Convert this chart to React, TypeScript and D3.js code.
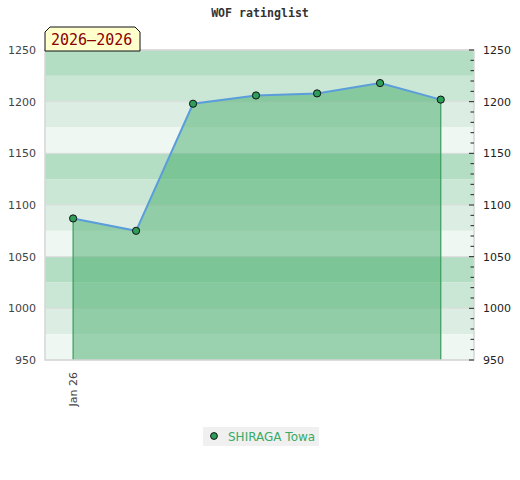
import React from "react";
import * as d3 from "d3";

const title = "WOF ratinglist";
const yearLabel = "2026–2026";
const playerName = "SHIRAGA Towa";
const dates = [
  "2026-01-01T00:00",
  "2026-01-08T00:00",
  "2026-01-14T08:00",
  "2026-01-21T08:00",
  "2026-01-28T03:00",
  "2026-02-04T03:00",
  "2026-02-10T21:00",
];
const ratings = [1087, 1075, 1198, 1206, 1208, 1218, 1202];
const xDomain = ["2025-12-28T21:00", "2026-02-14T13:40"];
const xTickValues = ["2026-01-01T00:00"];
const yDomain = [950, 1250];
const yMajorTicks = [950, 1000, 1050, 1100, 1150, 1200, 1250];
const bandColors = ["#b3dec4", "#c9e7d4", "#dceee3", "#eff7f2"];

const W = 520;
const H = 480;
const M = { left: 45, right: 46, top: 50, bottom: 120 };

export default function App() {
  const parse = (s: string) => new Date(s);
  const x = d3
    .scaleTime()
    .domain(xDomain.map(parse) as [Date, Date])
    .range([M.left, W - M.right]);
  const y = d3
    .scaleLinear()
    .domain(yDomain)
    .range([H - M.bottom, M.top]);

  const pts = dates.map((d, i) => ({ d: parse(d), v: ratings[i] }));
  const line = d3
    .line<{ d: Date; v: number }>()
    .x((p) => x(p.d))
    .y((p) => y(p.v));
  const area = d3
    .area<{ d: Date; v: number }>()
    .x((p) => x(p.d))
    .y0(y(yDomain[0]))
    .y1((p) => y(p.v));

  const bands = d3.range(yDomain[1], yDomain[0], -25);
  const minorTicks = d3.range(yDomain[0], yDomain[1] + 1, 10);
  const fmt = d3.timeFormat("%b %y");
  const x0 = M.left;
  const x1 = W - M.right;
  const yTop = M.top;
  const yBot = H - M.bottom;

  return (
    <svg width={W} height={H} style={{ position: "absolute", left: 0, top: 0 }}>
      <rect width={W} height={H} fill="#fff" />
      <text
        x={W / 2}
        y={17}
        textAnchor="middle"
        fontFamily="DejaVu Sans Mono"
        fontWeight="bold"
        fontSize={11.6}
        fill="#333"
      >
        {title}
      </text>
      {bands.map((b, i) => (
        <rect
          key={b}
          x={x0}
          y={y(b)}
          width={x1 - x0}
          height={y(b - 25) - y(b)}
          fill={bandColors[i % 4]}
        />
      ))}
      {yMajorTicks.map((t) => (
        <line key={t} x1={x0} x2={x1} y1={y(t)} y2={y(t)} stroke="#dcdcdc" strokeWidth={1} />
      ))}
      <path d={area(pts) || ""} fill="rgb(70,172,106)" fillOpacity={0.5} />
      {[pts[0], pts[pts.length - 1]].map((p, i) => (
        <line
          key={i}
          x1={x(p.d)}
          x2={x(p.d)}
          y1={y(p.v)}
          y2={yBot}
          stroke="#3a9a5c"
          strokeWidth={1.2}
        />
      ))}
      <path d={line(pts) || ""} fill="none" stroke="#5b9ddb" strokeWidth={2} />
      {pts.map((p, i) => (
        <circle key={i} cx={x(p.d)} cy={y(p.v)} r={3.6} fill="#2e9e5a" stroke="#111" strokeWidth={1} />
      ))}
      <rect
        x={x0}
        y={yTop}
        width={x1 - x0}
        height={yBot - yTop}
        fill="none"
        stroke="#d6d6d6"
        strokeWidth={1.5}
      />
      {yMajorTicks.map((t) => (
        <text
          key={"l" + t}
          x={36}
          y={y(t)}
          dy="0.35em"
          textAnchor="end"
          fontFamily="DejaVu Sans"
          fontSize={11}
          fill="#444"
        >
          {t}
        </text>
      ))}
      {minorTicks.map((t) => (
        <line
          key={"m" + t}
          x1={x1 - (t % 50 === 0 ? 5 : 3.5)}
          x2={x1}
          y1={y(t)}
          y2={y(t)}
          stroke="#222"
          strokeWidth={1}
        />
      ))}
      {yMajorTicks.map((t) => (
        <text
          key={"r" + t}
          x={483}
          y={y(t)}
          dy="0.35em"
          textAnchor="start"
          fontFamily="DejaVu Sans"
          fontSize={11}
          fill="#222"
        >
          {t}
        </text>
      ))}
      {xTickValues.map((s) => {
        const d = parse(s);
        return (
          <text
            key={s}
            transform={`translate(${x(d)},${yBot + 12}) rotate(-90)`}
            dy="0.35em"
            textAnchor="end"
            fontFamily="DejaVu Sans"
            fontSize={11}
            fill="#444"
          >
            {fmt(d)}
          </text>
        );
      })}
      <path
        d={`M${x0},${yTop + 1} L${x0},${yTop - 18} L${x0 + 5},${yTop - 23} L${x0 + 90},${yTop - 23} L${x0 + 95},${yTop - 18} L${x0 + 95},${yTop + 1} Z`}
        fill="#ffffcc"
        stroke="#111"
        strokeWidth={1}
      />
      <text
        x={x0 + 6}
        y={yTop - 5}
        fontFamily="DejaVu Sans Mono"
        fontSize={15}
        fill="#8b0000"
      >
        {yearLabel}
      </text>
      <rect x={203} y={427} width={116} height={19} fill="#f0f0f0" />
      <circle cx={214} cy={436} r={3.4} fill="#2e9e5a" stroke="#111" strokeWidth={1} />
      <text x={228} y={440.5} fontFamily="DejaVu Sans" fontSize={12} fill="#38aa66">
        {playerName}
      </text>
    </svg>
  );
}
